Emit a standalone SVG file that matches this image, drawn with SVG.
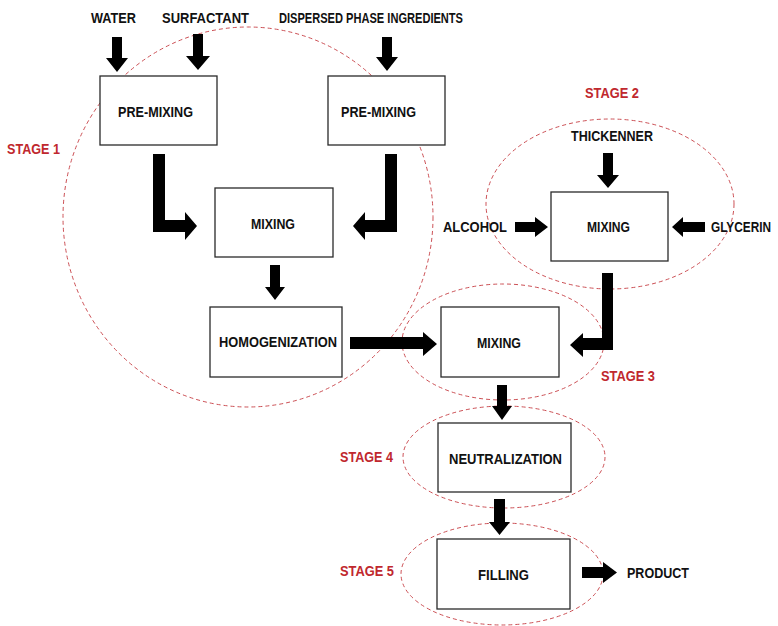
<svg xmlns="http://www.w3.org/2000/svg" width="778" height="626" viewBox="0 0 778 626">
<style>
.box{fill:#fff;stroke:#2a2a2a;stroke-width:1.3}
.lbl{font-family:"Liberation Sans",Arial,sans-serif;font-weight:bold;font-size:15.5px;fill:#111}
.stg{font-family:"Liberation Sans",Arial,sans-serif;font-weight:bold;font-size:15px;fill:#c0282e}
.zone{fill:none;stroke:#cc5055;stroke-width:1;stroke-dasharray:4 3}
.arr{fill:#000}
</style>
<rect width="778" height="626" fill="#fff"/>
<g id="stages">
<ellipse id="stage1-zone" class="zone" cx="248" cy="217" rx="185" ry="190"/>
<ellipse id="stage2-zone" class="zone" cx="610" cy="204" rx="124" ry="85"/>
<ellipse id="stage3-zone" class="zone" cx="503" cy="342" rx="101" ry="58"/>
<ellipse id="stage4-zone" class="zone" cx="504" cy="457" rx="101" ry="51"/>
<ellipse id="stage5-zone" class="zone" cx="502" cy="574" rx="101" ry="51"/>
<text class="stg" x="7" y="154" textLength="53" lengthAdjust="spacingAndGlyphs">STAGE 1</text>
<text class="stg" x="585" y="98" textLength="54" lengthAdjust="spacingAndGlyphs">STAGE 2</text>
<text class="stg" x="601" y="381" textLength="54" lengthAdjust="spacingAndGlyphs">STAGE 3</text>
<text class="stg" x="340" y="462" textLength="53" lengthAdjust="spacingAndGlyphs">STAGE 4</text>
<text class="stg" x="340" y="576" textLength="54" lengthAdjust="spacingAndGlyphs">STAGE 5</text>
</g>
<g id="connectors">
<polygon class="arr" points="112,37 122,37 122,58 128,58 117,72 106,58 112,58"/>
<polygon class="arr" points="193,34 203,34 203,56 210,56 198,70 186,56 193,56"/>
<polygon class="arr" points="382,37 392,37 392,57 398,57 387,71 376,57 382,57"/>
<polygon class="arr" points="603,153 613,153 613,175 619,175 608,188 597,175 603,175"/>
<path class="arr" d="M153,154 H165 V220 H185 V212 L197,226 L185,240 V232 H153 Z"/>
<path class="arr" d="M385,154 H397 V232 H365 V240 L353,226 L365,212 V220 H385 Z"/>
<polygon class="arr" points="270,265 280,265 280,287 285,287 275,300 265,287 270,287"/>
<polygon class="arr" points="350,337 423,337 423,332 437,344 423,356 423,349 350,349"/>
<polygon class="arr" points="515,222 535,222 535,217 548,227 535,237 535,232 515,232"/>
<polygon class="arr" points="705,222 683,222 683,217 672,227 683,237 683,232 705,232"/>
<path class="arr" d="M602,273 H613 V350 H583 V357 L570,345 L583,333 V338 H602 Z"/>
<polygon class="arr" points="497,385 507,385 507,406 512,406 502,420 492,406 497,406"/>
<polygon class="arr" points="494,499 505,499 505,522 510,522 499.5,535 489,522 494,522"/>
<polygon class="arr" points="582,567 603,567 603,562 617,572.5 603,583 603,578 582,578"/>
</g>
<g id="inputs">
<text class="lbl" x="91" y="23" textLength="45" lengthAdjust="spacingAndGlyphs">WATER</text>
<text class="lbl" x="162" y="23" textLength="87" lengthAdjust="spacingAndGlyphs">SURFACTANT</text>
<text class="lbl" x="279" y="23" textLength="184" lengthAdjust="spacingAndGlyphs">DISPERSED PHASE INGREDIENTS</text>
<text class="lbl" x="571" y="141" textLength="82" lengthAdjust="spacingAndGlyphs">THICKENNER</text>
<text class="lbl" x="443" y="232" textLength="64" lengthAdjust="spacingAndGlyphs">ALCOHOL</text>
<text class="lbl" x="711" y="232" textLength="60" lengthAdjust="spacingAndGlyphs">GLYCERIN</text>
<text class="lbl" x="627" y="578" textLength="62" lengthAdjust="spacingAndGlyphs">PRODUCT</text>
</g>
<g id="premixing1">
<rect class="box" x="100" y="76" width="117" height="69"/>
<text class="lbl" x="118" y="117" textLength="75" lengthAdjust="spacingAndGlyphs">PRE-MIXING</text>
</g>
<g id="premixing2">
<rect class="box" x="328" y="76" width="117" height="69"/>
<text class="lbl" x="341" y="117" textLength="75" lengthAdjust="spacingAndGlyphs">PRE-MIXING</text>
</g>
<g id="mixing1">
<rect class="box" x="215" y="188" width="118" height="69"/>
<text class="lbl" x="251" y="229" textLength="44" lengthAdjust="spacingAndGlyphs">MIXING</text>
</g>
<g id="homogenization">
<rect class="box" x="210" y="307" width="132" height="70"/>
<text class="lbl" x="219" y="347" textLength="118" lengthAdjust="spacingAndGlyphs">HOMOGENIZATION</text>
</g>
<g id="mixing2">
<rect class="box" x="551" y="192" width="117" height="69"/>
<text class="lbl" x="587" y="232" textLength="43" lengthAdjust="spacingAndGlyphs">MIXING</text>
</g>
<g id="mixing3">
<rect class="box" x="441" y="307" width="118" height="70"/>
<text class="lbl" x="477" y="348" textLength="44" lengthAdjust="spacingAndGlyphs">MIXING</text>
</g>
<g id="neutralization">
<rect class="box" x="438" y="423" width="133" height="69"/>
<text class="lbl" x="449" y="464" textLength="113" lengthAdjust="spacingAndGlyphs">NEUTRALIZATION</text>
</g>
<g id="filling">
<rect class="box" x="437" y="539" width="133" height="70"/>
<text class="lbl" x="478" y="580" textLength="51" lengthAdjust="spacingAndGlyphs">FILLING</text>
</g>
</svg>
